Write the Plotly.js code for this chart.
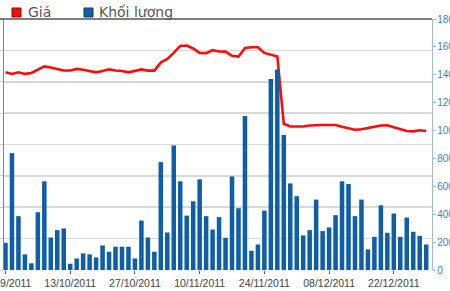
<!DOCTYPE html>
<html>
<head>
<meta charset="utf-8">
<script src="https://cdn.plot.ly/plotly-3.0.1.min.js"></script>
<style>html,body{margin:0;padding:0;background:#fff;}#chart{width:450px;height:291px;}</style>
</head>
<body>
<div id="chart"></div>
<script>
// Trading days (categories)
const dates = [
  "29/09/2011","30/09/2011",
  "03/10/2011","04/10/2011","05/10/2011","06/10/2011","07/10/2011",
  "10/10/2011","11/10/2011","12/10/2011","13/10/2011","14/10/2011",
  "17/10/2011","18/10/2011","19/10/2011","20/10/2011","21/10/2011",
  "24/10/2011","25/10/2011","26/10/2011","27/10/2011","28/10/2011",
  "31/10/2011","01/11/2011","02/11/2011","03/11/2011","04/11/2011",
  "07/11/2011","08/11/2011","09/11/2011","10/11/2011","11/11/2011",
  "14/11/2011","15/11/2011","16/11/2011","17/11/2011","18/11/2011",
  "21/11/2011","22/11/2011","23/11/2011","24/11/2011","25/11/2011",
  "28/11/2011","29/11/2011","30/11/2011","01/12/2011","02/12/2011",
  "05/12/2011","06/12/2011","07/12/2011","08/12/2011","09/12/2011",
  "12/12/2011","13/12/2011","14/12/2011","15/12/2011","16/12/2011",
  "19/12/2011","20/12/2011","21/12/2011","22/12/2011","23/12/2011",
  "26/12/2011","27/12/2011","28/12/2011","29/12/2011"
];
// Price (Giá), thousand VND
const price = [
  12.61,12.50,12.60,12.50,12.56,12.76,12.98,12.91,12.82,12.72,
  12.72,12.82,12.76,12.69,12.60,12.69,12.79,12.72,12.69,12.60,
  12.69,12.79,12.71,12.71,13.23,13.46,13.84,14.28,14.31,14.12,
  13.84,13.82,14.01,13.93,13.92,13.65,13.60,14.16,14.20,14.20,
  13.84,13.73,13.61,9.32,9.15,9.15,9.15,9.21,9.24,9.24,
  9.24,9.24,9.13,9.02,8.94,8.97,9.03,9.13,9.21,9.22,
  9.10,8.96,8.86,8.84,8.91,8.86
];
// Volume (Khối lượng)
const volume = [
  195,838,386,112,48,414,636,233,286,298,
  45,83,119,112,90,176,131,167,167,167,
  83,355,233,131,774,269,893,636,390,493,
  650,386,290,379,231,671,443,1105,138,183,
  426,1369,1438,969,621,529,248,286,505,279,
  305,393,636,617,386,505,148,238,464,267,
  405,238,376,274,245,183
];
const tickDates = ["29/09/2011","13/10/2011","27/10/2011","10/11/2011","24/11/2011","08/12/2011","22/12/2011"];
const legendNames = ["Giá","Khối lượng"];

const traces = [
  {type:"bar", x:dates, y:volume, yaxis:"y2", name:legendNames[1],
   marker:{color:"#0f5ea8", line:{width:0}}, showlegend:false, hoverinfo:"x+y"},
  {type:"scatter", mode:"lines", x:dates, y:price, yaxis:"y", name:legendNames[0],
   line:{color:"#ff0a0a", width:2.6}, showlegend:false}
];

const layout = {
  width:450, height:291,
  margin:{l:4, r:18, t:19, b:21, pad:0},
  paper_bgcolor:"#ffffff", plot_bgcolor:"#ffffff",
  font:{family:"DejaVu Sans, sans-serif", color:"#444", size:10},
  bargap:0.3,
  showlegend:false,
  xaxis:{type:"category", range:[-0.23,65.9], tickmode:"array", tickvals:tickDates, ticktext:tickDates,
    ticks:"outside", ticklen:3, tickcolor:"#555", showgrid:false, zeroline:false, showline:false,
    tickfont:{family:"Liberation Sans, Arial, sans-serif", size:10.5, color:"#444"}},
  yaxis:{range:[0,16], dtick:2, showgrid:true, gridcolor:"#d9d9d9", gridwidth:1.6,
    zeroline:false, showline:true, linecolor:"#e25a5a", linewidth:1,
    ticks:"outside", ticklen:4, tickcolor:"#cccccc", side:"left", showticklabels:false},
  yaxis2:{range:[0,1800], dtick:200, overlaying:"y", side:"right", showgrid:false, zeroline:false,
    showline:true, linecolor:"#9bbcd6", linewidth:1.2, ticks:"outside", ticklen:3, tickcolor:"#9bbcd6",
    ticklabelstandoff:-1,
    tickfont:{family:"Liberation Sans, Arial, sans-serif", size:10, color:"#3d82bd"}},
  shapes:[
    {type:"line", xref:"paper", yref:"paper", x0:-0.012, x1:1, y0:1, y1:1, line:{color:"#555555", width:1.6}},
    {type:"rect", xref:"paper", yref:"paper", x0:(12-4)/428, x1:(21-4)/428, y0:1+(19-17)/251, y1:1+(19-8)/251,
     fillcolor:"#ee1111", line:{color:"#a00000", width:1}},
    {type:"rect", xref:"paper", yref:"paper", x0:(84-4)/428, x1:(93-4)/428, y0:1+(19-17)/251, y1:1+(19-8)/251,
     fillcolor:"#15609f", line:{color:"#0a3d6a", width:1}}
  ],
  annotations:[
    {xref:"paper", yref:"paper", x:(26-4)/428, y:1+(19-12)/251, xanchor:"left", yanchor:"middle",
     text:legendNames[0], showarrow:false, font:{family:"DejaVu Sans, sans-serif", size:14, color:"#555"}},
    {xref:"paper", yref:"paper", x:(97-4)/428, y:1+(19-12)/251, xanchor:"left", yanchor:"middle",
     text:legendNames[1], showarrow:false, font:{family:"DejaVu Sans, sans-serif", size:14, color:"#555"}}
  ]
};
Plotly.newPlot("chart", traces, layout, {displayModeBar:false, staticPlot:true});
</script>
</body>
</html>
